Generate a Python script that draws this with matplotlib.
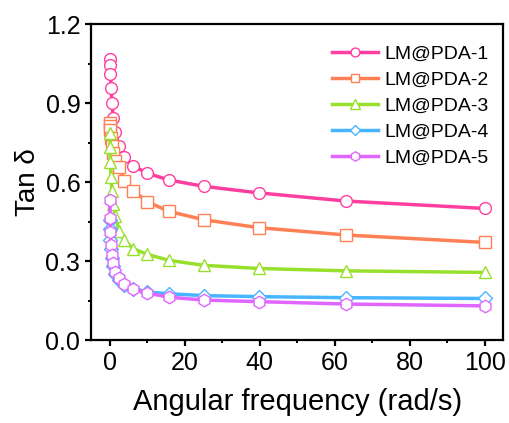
import matplotlib
matplotlib.use("Agg")
import matplotlib.pyplot as plt

plt.rcParams['font.family'] = ['Liberation Sans', 'DejaVu Sans']

freq = [0.1, 0.158, 0.251, 0.398, 0.631, 1.0, 1.58, 2.51, 3.98, 6.31,
        10.0, 15.8, 25.1, 39.8, 63.1, 100.0]

pda1 = [1.066, 1.045, 1.012, 0.959, 0.902, 0.845, 0.789, 0.738, 0.694, 0.662,
        0.634, 0.608, 0.584, 0.559, 0.528, 0.500]
pda2 = [0.825, 0.814, 0.797, 0.769, 0.739, 0.709, 0.680, 0.656, 0.606, 0.568,
        0.526, 0.489, 0.457, 0.427, 0.399, 0.371]
pda3 = [0.786, 0.732, 0.675, 0.618, 0.568, 0.517, 0.473, 0.416, 0.379, 0.347,
        0.326, 0.303, 0.284, 0.272, 0.263, 0.257]
pda4 = [0.455, 0.420, 0.380, 0.345, 0.310, 0.280, 0.252, 0.230, 0.210, 0.195,
        0.183, 0.176, 0.169, 0.165, 0.161, 0.158]
pda5 = [0.532, 0.462, 0.411, 0.361, 0.323, 0.291, 0.259, 0.234, 0.213, 0.194,
        0.179, 0.163, 0.152, 0.146, 0.137, 0.130]

labels = ['LM@PDA-1', 'LM@PDA-2', 'LM@PDA-3', 'LM@PDA-4', 'LM@PDA-5']
series = [pda1, pda2, pda3, pda4, pda5]
colors = ['#FF3FA0', '#FF8055', '#99E02E', '#47B5FF', '#E066FF']
markers = ['o', 's', '^', 'D', 'h']
msizes = [8.5, 8, 9, 7, 9]

fig = plt.figure(figsize=(5.10, 4.23), dpi=100)
ax = fig.add_axes([0.178, 0.196, 0.809, 0.747])

for y, c, m, ms, lab in zip(series, colors, markers, msizes, labels):
    ax.plot(freq, y, color=c, lw=2.5, marker=m, ms=ms, mfc='white',
            mec=c, mew=1.0, label=lab)

ax.set_xlim(-5, 105)
ax.set_ylim(0, 1.2)
ax.set_xticks([0, 20, 40, 60, 80, 100])
ax.set_xticks([10, 30, 50, 70, 90], minor=True)
ax.set_yticks([0.0, 0.3, 0.6, 0.9, 1.2])
ax.set_yticks([0.15, 0.45, 0.75, 1.05], minor=True)
ax.set_yticklabels(['0.0', '0.3', '0.6', '0.9', '1.2'])

for s in ax.spines.values():
    s.set_linewidth(1.6)
ax.tick_params(which='major', direction='out', length=4.5, width=1.6,
               labelsize=18, pad=3)
ax.tick_params(which='minor', direction='out', length=2.5, width=1.4)

ax.set_xlabel('Angular frequency (rad/s)', fontsize=21, labelpad=10)
ax.set_ylabel('Tan δ', fontsize=20, labelpad=3)

leg = ax.legend(loc='upper left', bbox_to_anchor=(0.565, 0.958), frameon=False,
                fontsize=14, handlelength=2.4, handletextpad=0.3,
                labelspacing=0.43, markerscale=0.75, borderaxespad=0)

fig.savefig('out.png', dpi=100)
